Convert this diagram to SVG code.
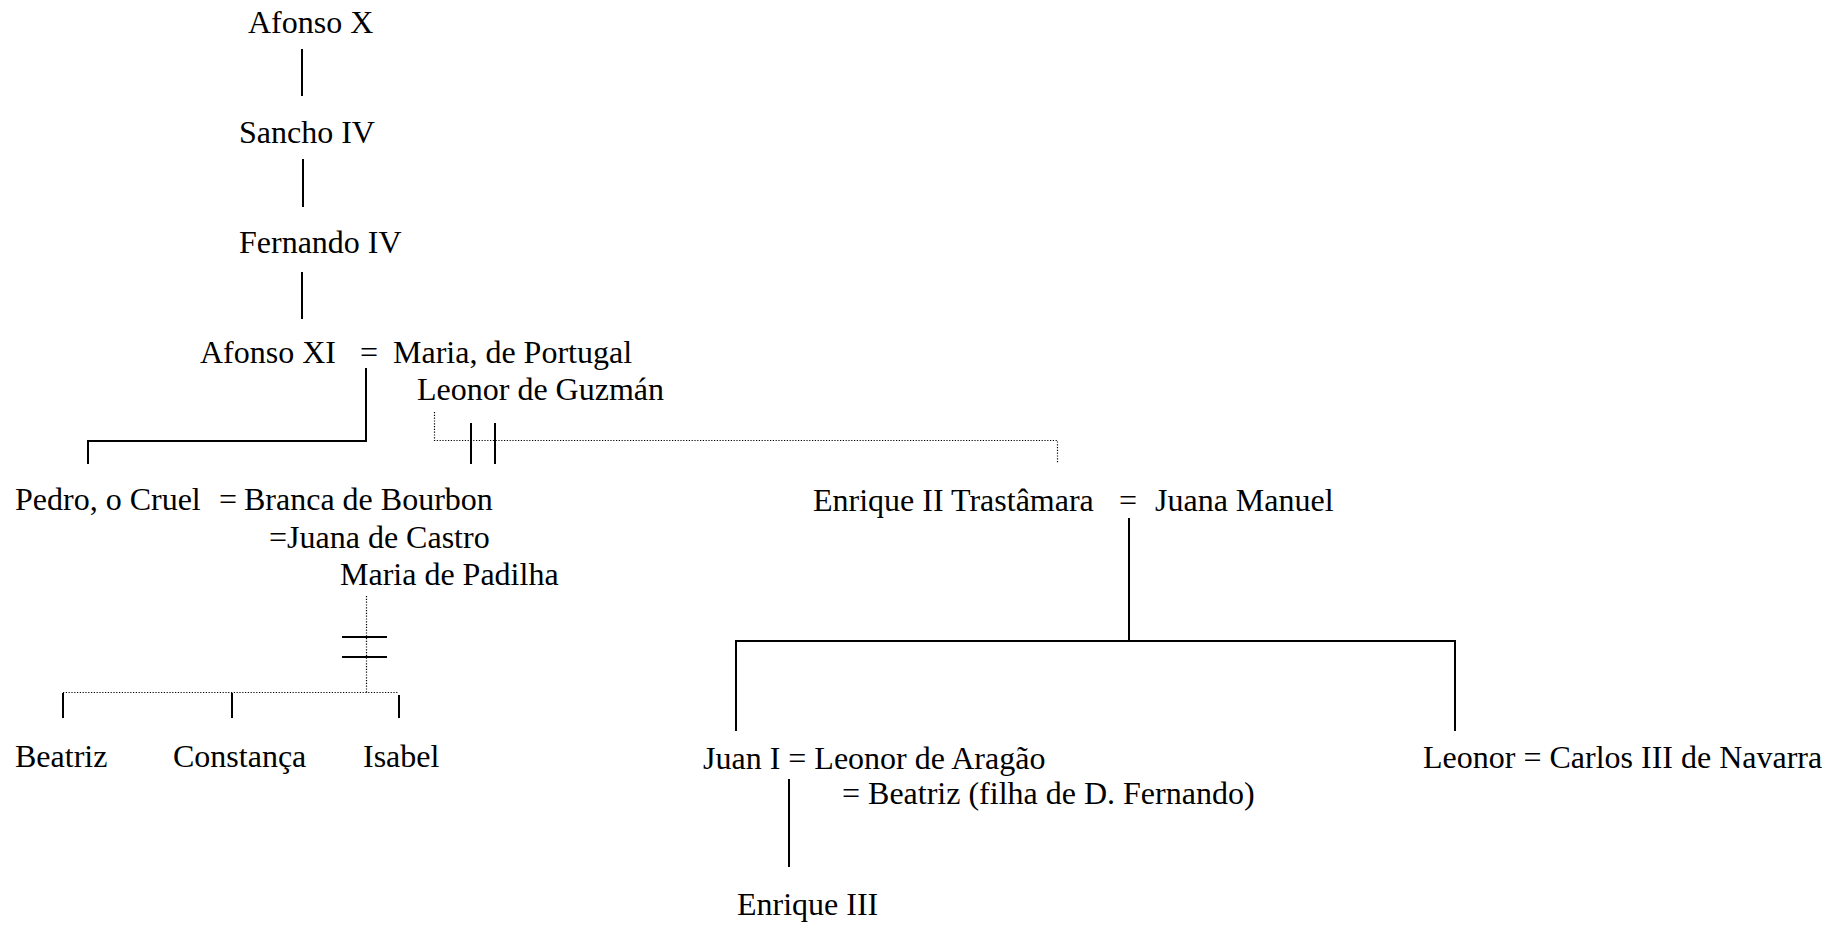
<svg xmlns="http://www.w3.org/2000/svg" width="1839" height="925" viewBox="0 0 1839 925">
<style>
text{font-family:"Liberation Serif","Times New Roman",serif;font-size:32px;fill:#000}
.s{stroke:#000;stroke-width:2;fill:none}
.d{stroke:#000;stroke-width:1.2;stroke-dasharray:1.2 1.6;fill:none}
</style>
<rect width="1839" height="925" fill="#fff"/>
<g id="connectors">
<line class="s" x1="302" y1="49" x2="302" y2="96"/>
<line class="s" x1="303" y1="159" x2="303" y2="207"/>
<line class="s" x1="302" y1="272" x2="302" y2="319"/>
<polyline class="s" points="366,368 366,441 88,441 88,464"/>
<polyline class="d" points="434.5,412 434.5,440.5 1057.5,440.5 1057.5,463"/>
<line class="s" x1="471" y1="423" x2="471" y2="464"/>
<line class="s" x1="495" y1="423" x2="495" y2="464"/>
<polyline class="d" points="366.5,596 366.5,692.5"/>
<line class="s" x1="342" y1="637" x2="387" y2="637"/>
<line class="s" x1="342" y1="657" x2="387" y2="657"/>
<line class="d" x1="63" y1="692.5" x2="399" y2="692.5"/>
<line class="s" x1="63" y1="693" x2="63" y2="718"/>
<line class="s" x1="232" y1="693" x2="232" y2="718"/>
<line class="s" x1="399" y1="695" x2="399" y2="718"/>
<line class="s" x1="1129" y1="518" x2="1129" y2="641"/>
<polyline class="s" points="736,731 736,641 1455,641 1455,731"/>
<line class="s" x1="789" y1="779" x2="789" y2="867"/>
</g>
<g id="afonso-x"><text x="248" y="33">Afonso X</text></g>
<g id="sancho-iv"><text x="239" y="143">Sancho IV</text></g>
<g id="fernando-iv"><text x="239" y="253">Fernando IV</text></g>
<g id="afonso-xi"><text x="200" y="363">Afonso XI</text><text x="360" y="363">=</text><text x="393" y="363">Maria, de Portugal</text></g>
<g id="leonor-guzman"><text x="417" y="400">Leonor de Guzmán</text></g>
<g id="pedro"><text x="15" y="510">Pedro, o Cruel</text><text x="219" y="510">=</text><text x="244" y="510">Branca de Bourbon</text><text x="269" y="548">=Juana de Castro</text></g>
<g id="maria-padilha"><text x="340" y="585">Maria de Padilha</text></g>
<g id="beatriz"><text x="15" y="767">Beatriz</text></g>
<g id="constanca"><text x="173" y="767">Constança</text></g>
<g id="isabel"><text x="363" y="767">Isabel</text></g>
<g id="enrique-ii"><text x="813" y="511">Enrique II Trastâmara</text><text x="1119" y="511">=</text><text x="1155" y="511">Juana Manuel</text></g>
<g id="juan-i"><text x="703" y="769">Juan I = Leonor de Aragão</text><text x="842" y="804">= Beatriz (filha de D. Fernando)</text></g>
<g id="enrique-iii"><text x="737" y="915">Enrique III</text></g>
<g id="leonor"><text x="1423" y="768">Leonor = Carlos III de Navarra</text></g>
</svg>
